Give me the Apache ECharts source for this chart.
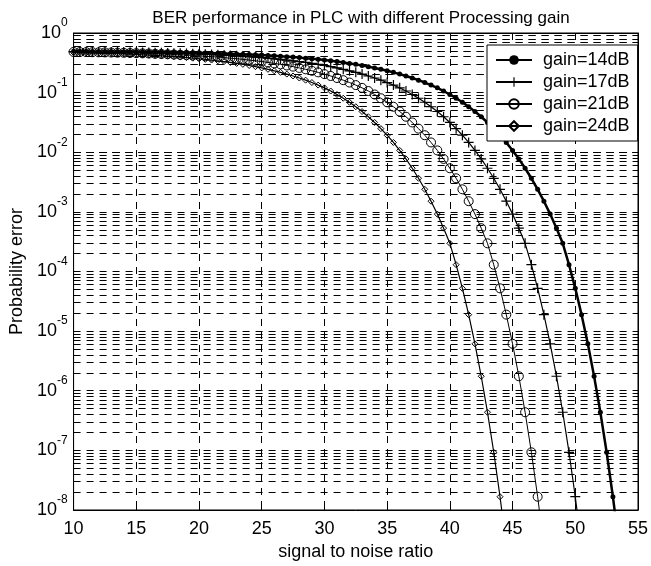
<!DOCTYPE html>
<html><head><meta charset="utf-8">
<script src="https://cdn.jsdelivr.net/npm/echarts@6/dist/echarts.min.js"></script>
<style>html,body{margin:0;padding:0;background:#fff}#c{width:651px;height:566px}</style>
</head><body><div id="c"></div>
<script>
// signal to noise ratio (dB) sample points
const snr = [10,10.5,11,11.5,12,12.5,13,13.5,14,14.5,15,15.5,16,16.5,17,17.5,18,18.5,19,19.5,
  20,20.5,21,21.5,22,22.5,23,23.5,24,24.5,25,25.5,26,26.5,27,27.5,28,28.5,29,29.5,
  30,30.5,31,31.5,32,32.5,33,33.5,34,34.5,35,35.5,36,36.5,37,37.5,38,38.5,39,39.5,
  40,40.5,41,41.5,42,42.5,43,43.5,44,44.5,45,45.5,46,46.5,47,47.5,48,48.5,49,49.5,
  50,50.5,51,51.5,52,52.5,53,53.5];

const ber14 = [0.4933,0.4926,0.4920,0.4912,0.4904,0.4895,0.4887,0.4876,0.4865,0.4854,
  0.4842,0.4828,0.4813,0.4797,0.4781,0.4762,0.4744,0.4722,0.4700,0.4675,
  0.4649,0.4621,0.4591,0.4558,0.4524,0.4487,0.4447,0.4405,0.4359,0.4310,
  0.4258,0.4202,0.4143,0.4080,0.4013,0.3945,0.3864,0.3784,0.3698,0.3614,
  0.3516,0.3420,0.3319,0.3206,0.3090,0.2979,0.2851,0.2729,0.2594,0.2460,
  0.2323,0.2188,0.2046,0.1901,0.1758,0.1618,0.1476,0.1337,0.1202,0.1064,
  0.0931,0.0805,0.0689,0.0580,0.0482,0.0394,0.0316,0.0249,0.0193,0.0146,
  0.01074,0.00773,0.00539,0.00366,0.00239,0.00151,9.18e-4,5.33e-4,2.97e-4,1.30e-4,
  5.22e-5,1.89e-5,6.12e-6,1.75e-6,4.36e-7,9.29e-8,1.67e-8,2.48e-9];

const ber17 = [0.4887,0.4876,0.4865,0.4854,
  0.4842,0.4828,0.4813,0.4797,0.4781,0.4762,0.4744,0.4722,0.4700,0.4675,
  0.4649,0.4621,0.4591,0.4558,0.4524,0.4487,0.4447,0.4405,0.4359,0.4310,
  0.4258,0.4202,0.4143,0.4080,0.4013,0.3945,0.3864,0.3784,0.3698,0.3614,
  0.3516,0.3420,0.3319,0.3206,0.3090,0.2979,0.2851,0.2729,0.2594,0.2460,
  0.2323,0.2188,0.2046,0.1901,0.1758,0.1618,0.1476,0.1337,0.1202,0.1064,
  0.0931,0.0805,0.0689,0.0580,0.0482,0.0394,0.0316,0.0249,0.0193,0.0146,
  0.01074,0.00773,0.00539,0.00366,0.00239,0.00151,9.18e-4,5.33e-4,2.97e-4,1.30e-4,
  5.22e-5,1.89e-5,6.12e-6,1.75e-6,4.36e-7,9.29e-8,1.67e-8,2.48e-9];

const ber21 = [0.4813,0.4797,0.4781,0.4762,0.4744,0.4722,0.4700,0.4675,
  0.4649,0.4621,0.4591,0.4558,0.4524,0.4487,0.4447,0.4405,0.4359,0.4310,
  0.4258,0.4202,0.4143,0.4080,0.4013,0.3945,0.3864,0.3784,0.3698,0.3614,
  0.3516,0.3420,0.3319,0.3206,0.3090,0.2979,0.2851,0.2729,0.2594,0.2460,
  0.2323,0.2188,0.2046,0.1901,0.1758,0.1618,0.1476,0.1337,0.1202,0.1064,
  0.0931,0.0805,0.0689,0.0580,0.0482,0.0394,0.0316,0.0249,0.0193,0.0146,
  0.01074,0.00773,0.00539,0.00366,0.00239,0.00151,9.18e-4,5.33e-4,2.97e-4,1.30e-4,
  5.22e-5,1.89e-5,6.12e-6,1.75e-6,4.36e-7,9.29e-8,1.67e-8,2.48e-9];

const ber24 = [0.4700,0.4675,
  0.4649,0.4621,0.4591,0.4558,0.4524,0.4487,0.4447,0.4405,0.4359,0.4310,
  0.4258,0.4202,0.4143,0.4080,0.4013,0.3945,0.3864,0.3784,0.3698,0.3614,
  0.3516,0.3420,0.3319,0.3206,0.3090,0.2979,0.2851,0.2729,0.2594,0.2460,
  0.2323,0.2188,0.2046,0.1901,0.1758,0.1618,0.1476,0.1337,0.1202,0.1064,
  0.0931,0.0805,0.0689,0.0580,0.0482,0.0394,0.0316,0.0249,0.0193,0.0146,
  0.01074,0.00773,0.00539,0.00366,0.00239,0.00151,9.18e-4,5.33e-4,2.97e-4,1.30e-4,
  5.22e-5,1.89e-5,6.12e-6,1.75e-6,4.36e-7,9.29e-8,1.67e-8,2.48e-9];

const seriesNames = ['gain=14dB','gain=17dB','gain=21dB','gain=24dB'];
const xMin = 10, xMax = 55, xStep = 5;
const yMin = 1e-8, yMax = 1;

const FONT = '"Liberation Sans", Arial, Helvetica, sans-serif';
const pts = arr => arr.map((v, i) => [snr[i], v]);

// minor log grid values (2..9 x 10^k)
const minorVals = [];
for (let e = -8; e < 0; e++) for (let m = 2; m <= 9; m++) minorVals.push(+(m * Math.pow(10, e)).toPrecision(3));
const majorVals = [];
for (let e = -8; e <= 0; e++) majorVals.push(Math.pow(10, e));
const allTicks = majorVals.concat(minorVals).sort((a, b) => a - b);

const dash = [7, 6];
const plusPath = 'path://M4.4,0h1.2v4.4h4.4v1.2h-4.4v4.4h-1.2v-4.4h-4.4v-1.2h4.4z';

const chart = echarts.init(document.getElementById('c'), null, {renderer: 'canvas'});
chart.setOption({
  animation: false,
  backgroundColor: '#fff',
  title: {
    text: 'BER performance in PLC with different Processing gain',
    left: 356, top: 5, textAlign: 'center',
    textStyle: {fontFamily: FONT, fontSize: 17, fontWeight: 'normal', color: '#000'}
  },
  grid: {left: 70, right: 8, top: 33, bottom: 56, show: true, borderColor: '#000', borderWidth: 1, backgroundColor: 'transparent'},
  legend: {
    data: seriesNames,
    orient: 'vertical',
    left: 487, top: 45, z: 20, zlevel: 0,
    backgroundColor: '#fff', borderColor: '#000', borderWidth: 1,
    padding: [6, 8, 6, 8], itemGap: 4, itemWidth: 36, itemHeight: 12,
    textStyle: {fontFamily: FONT, fontSize: 18, color: '#000', padding: [0, 0, 0, 6]}
  },
  xAxis: [{
    type: 'value', min: xMin, max: xMax, interval: xStep,
    name: 'signal to noise ratio', nameLocation: 'middle', nameGap: 32,
    nameTextStyle: {fontFamily: FONT, fontSize: 18, color: '#000'},
    axisLine: {show: true, lineStyle: {color: '#000', width: 1}},
    axisTick: {show: true, inside: true, length: 6, lineStyle: {color: '#000'}},
    axisLabel: {fontFamily: FONT, fontSize: 18, color: '#000', margin: 10},
    splitLine: {show: true, lineStyle: {color: '#000', type: dash, width: 1}}
  }, {
    type: 'value', position: 'top', min: xMin, max: xMax, interval: xStep,
    axisLine: {show: true, lineStyle: {color: '#000'}},
    axisTick: {show: true, inside: true, length: 6, lineStyle: {color: '#000'}},
    axisLabel: {show: false}, splitLine: {show: false}
  }],
  yAxis: [{
    type: 'log', logBase: 10, min: yMin, max: yMax,
    name: 'Probability error', nameLocation: 'middle', nameGap: 42,
    nameTextStyle: {fontFamily: FONT, fontSize: 18, color: '#000'},
    axisLine: {show: true, lineStyle: {color: '#000', width: 1}},
    axisTick: {show: true, inside: true, length: 5, lineStyle: {color: '#000'}, customValues: allTicks},
    axisLabel: {
      margin: 6,
      formatter: v => '{b|10}{e|' + Math.round(Math.log10(v)) + '}',
      rich: {
        b: {fontFamily: FONT, fontSize: 18, color: '#000', padding: [7, 0, 7, 0]},
        e: {fontFamily: FONT, fontSize: 12, color: '#000', verticalAlign: 'top'}
      }
    },
    splitLine: {show: true, lineStyle: {color: '#000', type: dash, width: 1}}
  }, {
    type: 'log', logBase: 10, min: yMin, max: yMax, position: 'right',
    axisLine: {show: true, lineStyle: {color: '#000'}},
    axisTick: {show: true, inside: true, length: 5, lineStyle: {color: '#000'}, customValues: allTicks},
    axisLabel: {show: false}, splitLine: {show: false}
  }],
  series: [
    {
      type: 'line', data: [], silent: true, z: 1,
      markLine: {
        silent: true, symbol: ['none', 'none'], label: {show: false},
        lineStyle: {color: '#000', type: dash, width: 1},
        emphasis: {disabled: true},
        data: minorVals.map(v => ({yAxis: v}))
      }
    },
    {
      name: seriesNames[0], type: 'line', data: pts(ber14), z: 3,
      symbol: 'circle', symbolSize: 5, showAllSymbol: true,
      itemStyle: {color: '#000'}, lineStyle: {color: '#000', width: 2.5}
    },
    {
      name: seriesNames[1], type: 'line', data: pts(ber17), z: 3,
      symbol: plusPath, symbolSize: 10, showAllSymbol: true,
      itemStyle: {color: '#000'}, lineStyle: {color: '#000', width: 1.2}
    },
    {
      name: seriesNames[2], type: 'line', data: pts(ber21), z: 3,
      symbol: 'circle', symbolSize: 9, showAllSymbol: true,
      itemStyle: {color: 'rgba(0,0,0,0)', borderColor: '#000', borderWidth: 1},
      lineStyle: {color: '#000', width: 1}
    },
    {
      name: seriesNames[3], type: 'line', data: pts(ber24), z: 3,
      symbol: 'diamond', symbolSize: 6, showAllSymbol: true,
      itemStyle: {color: 'rgba(0,0,0,0)', borderColor: '#000', borderWidth: 1},
      lineStyle: {color: '#000', width: 1.2}
    }
  ]
});
</script>
</body></html>
